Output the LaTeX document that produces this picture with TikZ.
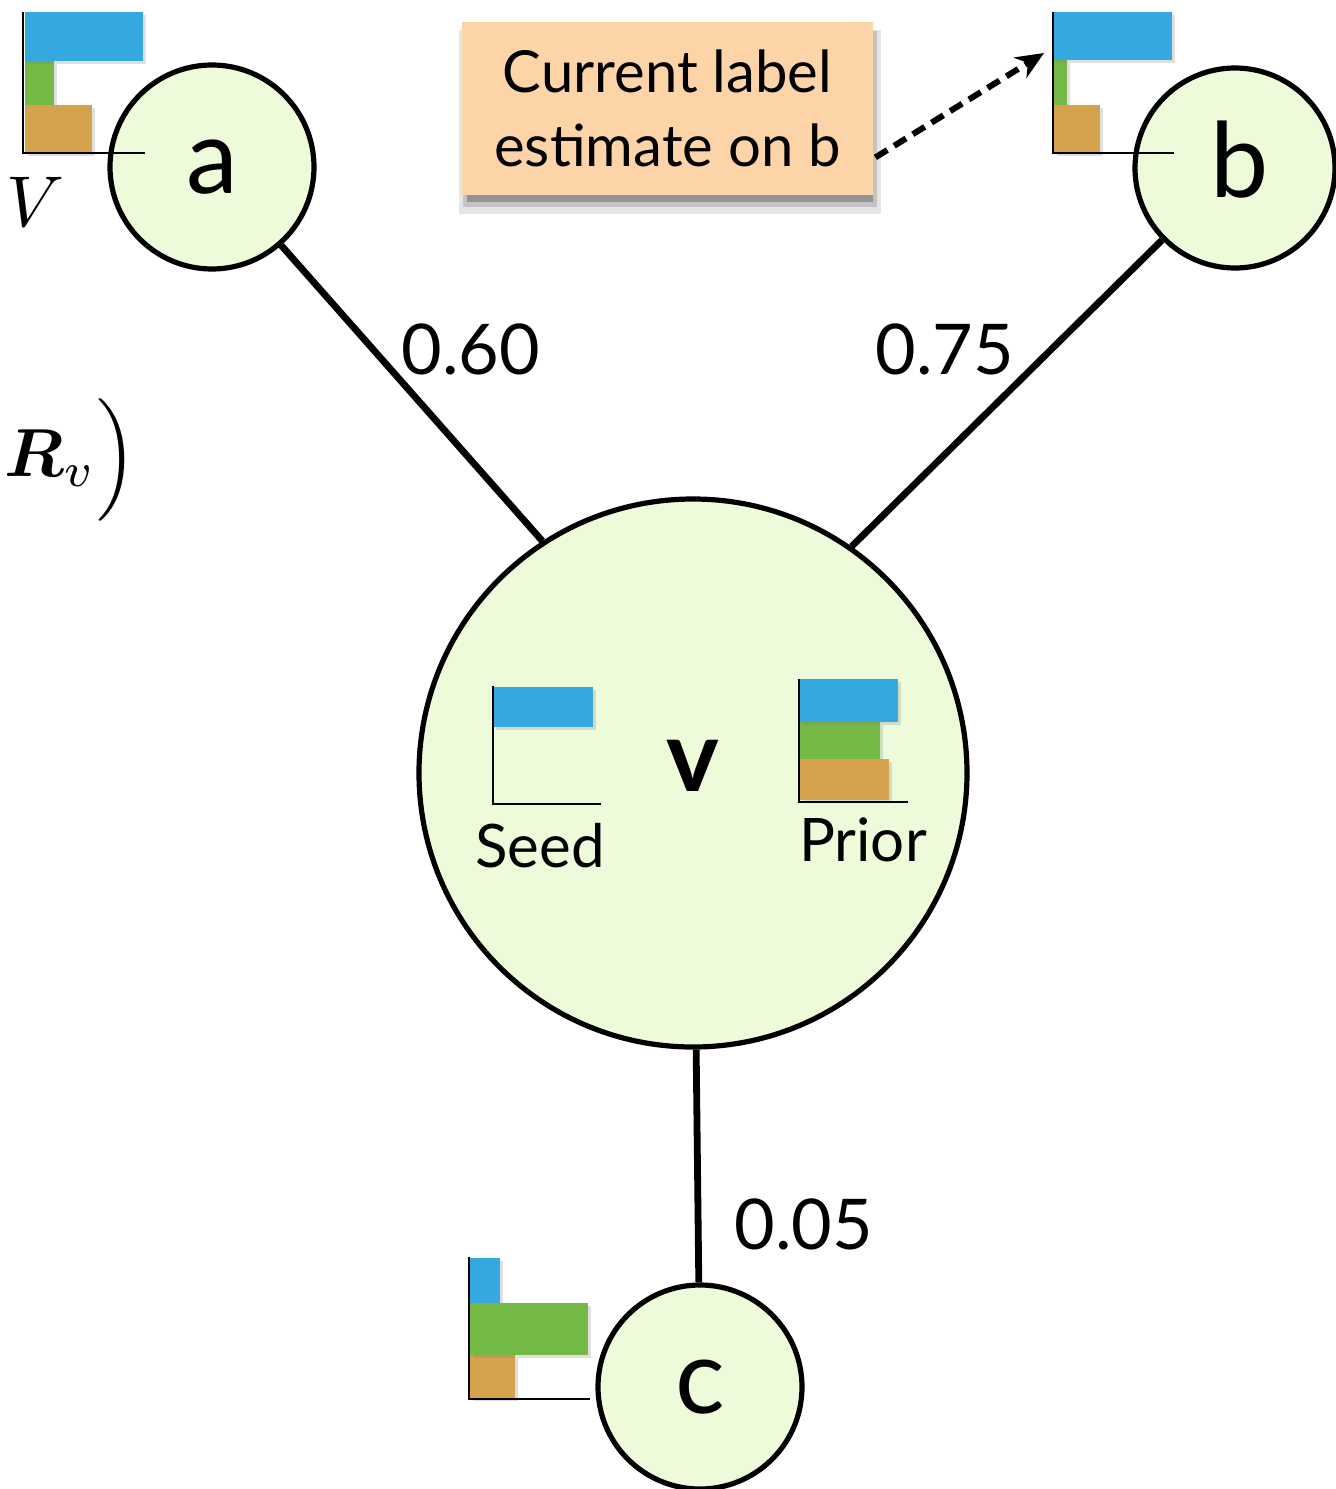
\documentclass[tikz,border=0pt]{standalone}
\usepackage{amsmath,amssymb,bm}
\usepackage{graphicx}
\usepackage{fontspec}
\newfontfamily\gill{Lato}
\usetikzlibrary{shadows,arrows.meta}
\definecolor{nodefill}{HTML}{EEFBDA}
\definecolor{barblue}{HTML}{35A9DF}
\definecolor{bargreen}{HTML}{74B846}
\definecolor{barorange}{HTML}{D5A24D}
\definecolor{boxpeach}{HTML}{FDD4A8}
\begin{document}
\begin{tikzpicture}[x=0.5pt,y=-0.5pt,
 vertex/.style={circle,draw=black,line width=2.6pt,fill=nodefill,inner sep=0pt,
   font=\gill\fontsize{52}{56}\selectfont},
 edge/.style={line width=3.4pt},
 wlabel/.style={font=\gill\fontsize{35}{40}\selectfont,inner sep=0pt},
 bar/.style={drop shadow={shadow xshift=1.5pt,shadow yshift=-1.5pt,opacity=0.25}},
 axisline/.style={line width=1pt},
 chartlabel/.style={font=\gill\fontsize{30}{34}\selectfont,inner sep=0pt},
 shadowlayer/.style={fill=black,inner sep=0pt}]
\useasboundingbox (0,0) rectangle (1335,1489);
% nodes
\node[vertex,minimum size=102pt] (a) at (212,167) {a};
\node[vertex,minimum size=100pt] (b) at (1235,168) {};
\node[vertex,minimum size=274pt] (v) at (693,773) {};
\node[vertex,minimum size=102pt] (c) at (700,1387) {c};
\node[font=\gill\fontsize{52}{56}\selectfont,inner sep=0pt] (btext) at (1240,160) {b};
\node[font=\gill\bfseries\fontsize{50}{56}\selectfont,inner sep=0pt] (vtext) at (693,766) {v};
% edges
\draw[edge] (a) -- (v.123);
\draw[edge] (b) -- (v.55);
\draw[edge] (v) -- (c);
% weights
\node[wlabel] (w1) at (471,349) {0.60};
\node[wlabel] (w2) at (945,349) {0.75};
\node[wlabel] (w3) at (804,1224) {0.05};
% chart at a
\fill[bargreen,bar] (25,61) rectangle (54,108);
\fill[barorange,bar] (25,105) rectangle (92,153);
\fill[barblue,bar] (25,12) rectangle (143,61);
\draw[axisline] (23,12) -- (23,153) -- (145,153);
\node[inner sep=0pt] (Vlab) at (35,202) {\scalebox{3.6}{$V$}};
% chart at b
\fill[bargreen,bar] (1054,60) rectangle (1067,108);
\fill[barorange,bar] (1054,105) rectangle (1100,153);
\fill[barblue,bar] (1054,12) rectangle (1172,60);
\draw[axisline] (1053,12) -- (1053,153) -- (1174,153);
% seed chart
\fill[barblue,bar] (493,687) rectangle (593,727);
\draw[axisline] (493,686) -- (493,804) -- (601,804);
\node[chartlabel] (seed) at (540,846) {Seed};
% prior chart
\fill[bargreen,bar] (800,722) rectangle (880,763);
\fill[barorange,bar] (800,759) rectangle (889,800);
\fill[barblue,bar] (800,679) rectangle (898,722);
\draw[axisline] (799,679) -- (799,802) -- (908,802);
\node[chartlabel] (prior) at (863,840) {Prior};
% chart at c
\fill[barblue,bar] (470,1258) rectangle (500,1307);
\fill[barorange,bar] (470,1355) rectangle (515,1398);
\fill[bargreen,bar] (470,1303) rectangle (588,1355);
\draw[axisline] (469,1257) -- (469,1399) -- (590,1399);
% R_v
\node[inner sep=0pt] (Rv) at (50,458) {\scalebox{3.4}{$\boldsymbol{R}_v$}};
\node[inner sep=0pt] (paren) at (117,460) {\scalebox{3.4}{$\Bigr)$}};
% callout with soft shadow
\node[shadowlayer,opacity=0.10,minimum width=211pt,minimum height=92pt] (sh1) at (670,122) {};
\node[shadowlayer,opacity=0.15,minimum width=207pt,minimum height=88pt] (sh2) at (670,119) {};
\node[shadowlayer,opacity=0.25,minimum width=203pt,minimum height=85pt] (sh3) at (670,117) {};
\node[fill=boxpeach,minimum width=205.5pt,minimum height=86.5pt,inner sep=0pt,align=center,
  font=\gill\fontsize{29}{37}\selectfont] (box) at (667.5,108.5) {Current label\\estimate on b};
\coordinate (tip) at (1044,53);
\draw[line width=3pt,dash pattern=on 7pt off 4pt,-{Stealth[length=14pt,width=12pt]}]
  ([xshift=1pt,yshift=19pt]box.south east) -- (tip);
\end{tikzpicture}
\end{document}
